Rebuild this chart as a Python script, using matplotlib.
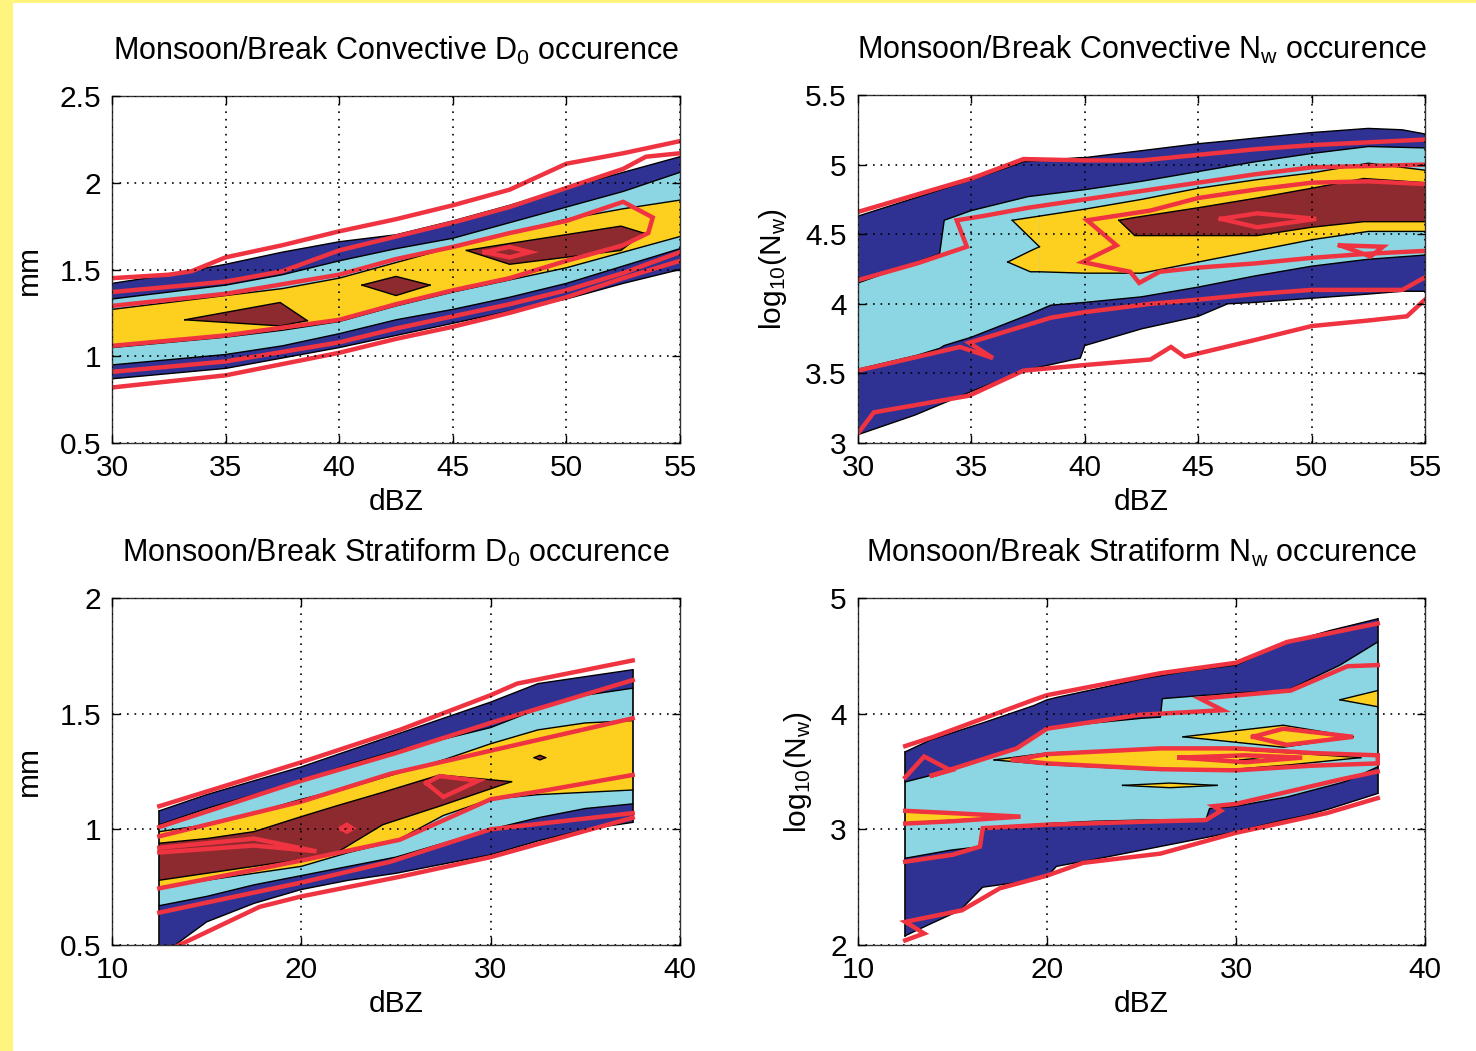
import matplotlib
matplotlib.use("Agg")
from matplotlib import pyplot as plt
from matplotlib.patches import Rectangle
from matplotlib.ticker import FuncFormatter

plt.rcParams['font.family'] = ['Liberation Sans', 'DejaVu Sans']
plt.rcParams['mathtext.fontset'] = 'custom'
plt.rcParams['mathtext.rm'] = 'Liberation Sans'
plt.rcParams['mathtext.it'] = 'Liberation Sans'
plt.rcParams['font.size'] = 21.5

# colores de los niveles rellenos (monzon) y de las lineas (break)
FILL = ['#2f3293', '#8bd6e2', '#fdd01f', '#8c2a2f']
RED = '#ef3340'

# --- Panel 1: convectivo D0 (dBZ vs mm) ---
cd_x = [30, 32.5, 35, 37.5, 40, 42.5, 45, 47.5, 50, 52.5, 55]
cd_blue_hi = [1.42, 1.47, 1.53, 1.60, 1.66, 1.70, 1.78, 1.87, 1.97, 2.06, 2.15]
cd_blue_lo = [0.87, 0.90, 0.93, 0.99, 1.05, 1.12, 1.19, 1.26, 1.33, 1.42, 1.50]
cd_lblue_hi = [1.33, 1.37, 1.41, 1.47, 1.55, 1.62, 1.68, 1.77, 1.86, 1.95, 2.06]
cd_lblue_lo = [0.95, 0.98, 1.01, 1.06, 1.13, 1.21, 1.27, 1.34, 1.42, 1.52, 1.62]
cd_yel_hi = [1.27, 1.31, 1.35, 1.39, 1.45, 1.54, 1.63, 1.71, 1.79, 1.85, 1.90]
cd_yel_lo = [1.05, 1.08, 1.11, 1.15, 1.20, 1.29, 1.37, 1.44, 1.51, 1.60, 1.69]
cd_red1_x = [33.2, 37.4, 38.6]
cd_red1_hi = [1.21, 1.31, 1.205]
cd_red1_lo = [1.21, 1.175, 1.205]
cd_red2_x = [41.0, 42.5, 44.0]
cd_red2_hi = [1.41, 1.46, 1.41]
cd_red2_lo = [1.41, 1.35, 1.41]
cd_red3_x = [45.6, 47.5, 52.4, 53.4]
cd_red3_hi = [1.61, 1.65, 1.75, 1.71]
cd_red3_lo = [1.61, 1.53, 1.61, 1.71]

cd_brk = [
    ([30, 32.5, 33.5, 35, 37.5, 40, 42.5, 45, 47.5, 50, 52.5, 55],
     [1.45, 1.47, 1.49, 1.57, 1.64, 1.72, 1.79, 1.87, 1.96, 2.11, 2.17, 2.24]),
    ([30, 35, 40, 42.5, 45, 47.5, 50, 52.5, 55],
     [0.82, 0.89, 1.02, 1.10, 1.17, 1.25, 1.34, 1.45, 1.55]),
    ([30, 35, 37.5, 40, 42.5, 45, 47.5, 50, 52.5, 53.5, 55],
     [1.37, 1.43, 1.49, 1.61, 1.69, 1.77, 1.86, 1.97, 2.08, 2.15, 2.17]),
    ([30, 35, 40, 42.5, 45, 47.5, 50, 52.5, 55],
     [0.91, 0.97, 1.08, 1.16, 1.23, 1.30, 1.38, 1.48, 1.60]),
    ([30, 35, 40, 42.5, 45, 47.5, 50, 52.5, 53.8, 53.6, 52.5, 50, 47.5, 45, 42.5, 40, 35, 30],
     [1.29, 1.36, 1.47, 1.56, 1.63, 1.71, 1.78, 1.89, 1.80, 1.71, 1.64, 1.55, 1.45, 1.38, 1.30, 1.21, 1.12, 1.06]),
    ([46.4, 47.5, 48.4, 47.5, 46.4], [1.60, 1.63, 1.60, 1.57, 1.60]),
]

# --- Panel 2: convectivo Nw ---
cn_blue_x = [30, 32.5, 35, 37.3, 39.8, 40, 42.5, 45, 46.3, 47.5, 50, 52.5, 54, 55]
cn_blue_hi = [4.63, 4.76, 4.89, 5.02, 5.05, 5.05, 5.10, 5.15, 5.17, 5.19, 5.23, 5.26, 5.25, 5.22]
cn_blue_lo = [3.06, 3.20, 3.37, 3.52, 3.61, 3.70, 3.82, 3.91, 4.00, 4.01, 4.04, 4.07, 4.09, 4.09]
cn_lblue_x = [30, 32.6, 33.6, 33.8, 35, 37.5, 38.5, 40, 42.5, 45, 47.5, 50, 52.5, 55]
cn_lblue_hi = [4.15, 4.30, 4.36, 4.60, 4.67, 4.77, 4.79, 4.82, 4.88, 4.95, 5.02, 5.08, 5.13, 5.12]
cn_lblue_lo = [3.53, 3.63, 3.68, 3.70, 3.76, 3.92, 3.99, 4.01, 4.05, 4.12, 4.20, 4.27, 4.32, 4.35]
cn_yel_x = [38.0, 40, 42.5, 45, 47.5, 50, 52.5, 55]
cn_yel_hi = [4.63, 4.68, 4.75, 4.83, 4.89, 4.94, 5.01, 4.96]
cn_yel_lo = [4.23, 4.22, 4.22, 4.30, 4.38, 4.46, 4.52, 4.52]
cn_yel_up_x = [36.8, 38.0]
cn_yel_up_hi = [4.60, 4.63]
cn_yel_up_lo = [4.60, 4.41]
cn_yel_dn_x = [36.6, 37.6, 38.0]
cn_yel_dn_hi = [4.30, 4.38, 4.41]
cn_yel_dn_lo = [4.30, 4.23, 4.23]
cn_red_x = [41.5, 42.2, 45, 47.6, 50, 52.3, 55]
cn_red_hi = [4.60, 4.62, 4.69, 4.76, 4.83, 4.90, 4.87]
cn_red_lo = [4.60, 4.49, 4.49, 4.49, 4.55, 4.59, 4.59]

cn_brk = [
    ([30, 32.5, 35, 37.3, 40, 42.5, 45, 47.5, 50, 52.5, 55],
     [4.66, 4.78, 4.90, 5.04, 5.03, 5.03, 5.07, 5.11, 5.14, 5.16, 5.18]),
    ([30, 30.7, 34.9, 37.3, 40, 42.9, 43.8, 44.4, 47.5, 50, 52.5, 54.2, 55],
     [3.07, 3.22, 3.34, 3.52, 3.56, 3.60, 3.69, 3.62, 3.74, 3.84, 3.88, 3.91, 4.03]),
    ([30, 32.6, 34.8, 34.35, 35.5, 37.5, 40, 42.9, 45, 47.5, 50, 52.5, 55],
     [4.17, 4.29, 4.41, 4.60, 4.63, 4.69, 4.75, 4.82, 4.87, 4.93, 4.98, 4.99, 5.00]),
    ([30, 34.5, 35.95, 34.9, 38.5, 40, 42.9, 45, 47.5, 50, 52.5, 54, 55],
     [3.52, 3.69, 3.61, 3.72, 3.90, 3.94, 4.00, 4.03, 4.07, 4.10, 4.10, 4.10, 4.19]),
    ([55, 52.5, 50, 47.5, 45, 42.9, 40.1, 41.4, 39.9, 42.0, 42.4, 43.3, 45, 47.5, 50, 52.5, 55],
     [4.86, 4.88, 4.87, 4.82, 4.76, 4.67, 4.60, 4.42, 4.30, 4.23, 4.15, 4.23, 4.26, 4.29, 4.33, 4.36, 4.38]),
    ([46.0, 47.6, 50.2, 47.6, 46.0], [4.61, 4.65, 4.61, 4.55, 4.61]),
    ([51.25, 53.15, 52.6, 51.25], [4.42, 4.41, 4.34, 4.42]),
]

# --- Panel 3: estratiforme D0 ---
sd_x = [12.5, 15, 17.5, 20, 22.5, 25, 27.5, 30, 32.5, 35, 37.5]
sd_blue_hi = [1.08, 1.15, 1.21, 1.27, 1.34, 1.41, 1.48, 1.55, 1.63, 1.66, 1.69]
sd_blue_lo = [0.45, 0.60, 0.68, 0.74, 0.78, 0.81, 0.85, 0.89, 0.95, 1.00, 1.03]
sd_lblue_hi = [1.02, 1.09, 1.15, 1.21, 1.28, 1.34, 1.39, 1.44, 1.52, 1.58, 1.61]
sd_lblue_lo = [0.67, 0.71, 0.76, 0.80, 0.84, 0.88, 0.94, 1.00, 1.05, 1.09, 1.11]
sd_yel_hi = [0.99, 1.02, 1.07, 1.13, 1.18, 1.24, 1.30, 1.37, 1.43, 1.46, 1.47]
sd_yel_lo = [0.75, 0.78, 0.81, 0.84, 0.90, 0.95, 1.06, 1.13, 1.15, 1.16, 1.17]
sd_red_x = [12.5, 15, 17.5, 20, 21.8, 24.3, 27.3, 31.1]
sd_red_hi = [0.94, 0.96, 0.99, 1.055, 1.10, 1.16, 1.235, 1.206]
sd_red_lo = [0.78, 0.81, 0.84, 0.87, 0.896, 1.02, 1.10, 1.206]
sd_dot_x = [32.3, 32.6, 32.9]
sd_dot_hi = [1.31, 1.32, 1.31]
sd_dot_lo = [1.31, 1.30, 1.31]

sd_brk = [
    ([12.5, 20, 25.2, 30, 31.4, 37.5], [1.10, 1.29, 1.43, 1.58, 1.63, 1.73]),
    ([13.3, 17.8, 20, 25.2, 30, 37.5], [0.49, 0.665, 0.71, 0.795, 0.88, 1.05]),
    ([12.5, 20, 25, 30, 37.5], [1.01, 1.21, 1.33, 1.46, 1.645]),
    ([12.5, 20, 24.7, 30, 37.5], [0.64, 0.77, 0.86, 1.00, 1.07]),
    ([12.5, 20, 24.7, 30, 37.5], [0.97, 1.12, 1.24, 1.34, 1.48]),
    ([12.5, 20, 25.2, 30, 33, 37.5], [0.745, 0.865, 0.955, 1.13, 1.17, 1.235]),
    ([12.5, 17.5, 20.8, 17.5, 12.5], [0.92, 0.96, 0.905, 0.93, 0.90]),
    ([22.1, 22.4, 22.7, 22.4, 22.1], [1.004, 1.02, 1.004, 0.99, 1.004]),
    ([26.6, 27.3, 29.35, 27.5, 26.6], [1.20, 1.23, 1.21, 1.14, 1.20]),
]

# --- Panel 4: estratiforme Nw ---
sn_blue_x = [12.5, 13.8, 15, 15.4, 16.6, 17.5, 19.3, 20, 20.5, 22.5, 25, 27.5, 30, 32.5, 33.7, 35, 37.5]
sn_blue_hi = [3.67, 3.77, 3.835, 3.857, 3.92, 3.97, 4.07, 4.12, 4.14, 4.21, 4.30, 4.37, 4.42, 4.605, 4.66, 4.72, 4.82]
sn_blue_lo = [2.08, 2.18, 2.27, 2.30, 2.50, 2.52, 2.56, 2.59, 2.68, 2.74, 2.82, 2.90, 2.98, 3.08, 3.12, 3.18, 3.31]
sn_lblue_x = [12.5, 14.9, 16.45, 16.6, 18.4, 20, 22.5, 25, 26, 26.1, 28.4, 28.6, 30, 32.7, 35.5, 35.9, 37.5]
sn_lblue_hi = [3.41, 3.51, 3.60, 3.61, 3.71, 3.87, 3.92, 3.96, 3.97, 4.13, 4.16, 4.16, 4.18, 4.20, 4.42, 4.46, 4.62]
sn_lblue_lo = [2.75, 2.82, 2.85, 3.01, 3.03, 3.05, 3.07, 3.08, 3.08, 3.08, 3.08, 3.18, 3.20, 3.28, 3.40, 3.42, 3.54]
sn_yel = [
    ([12.5, 15, 18.4], [3.05, 3.08, 3.11], [3.15, 3.14, 3.11]),
    ([17.2, 20, 26, 30, 33, 36.6], [3.60, 3.56, 3.51, 3.52, 3.56, 3.62], [3.60, 3.66, 3.70, 3.69, 3.66, 3.62]),
    ([27.2, 32.5, 36.2], [3.80, 3.71, 3.80], [3.80, 3.90, 3.80]),
    ([24.0, 26.5, 29.0], [3.38, 3.36, 3.38], [3.38, 3.40, 3.38]),
    ([35.5, 37.5], [4.12, 4.06], [4.12, 4.20]),
]
sn_red_x = [30.2, 30.9, 31.5]
sn_red_hi = [3.60, 3.61, 3.60]
sn_red_lo = [3.60, 3.585, 3.60]

sn_brk = [
    ([12.5, 14, 19.3, 20, 26, 30, 32.7, 37.5], [3.72, 3.80, 4.12, 4.16, 4.35, 4.44, 4.62, 4.78]),
    ([12.5, 13.5, 12.5, 15.5, 17.5, 20, 21.9, 26, 30, 34.8, 37.5],
     [2.04, 2.10, 2.20, 2.30, 2.49, 2.60, 2.71, 2.79, 2.97, 3.14, 3.27]),
    ([12.5, 13.5, 14.9, 13.8, 18.4, 20, 24.9, 29.3, 28.1, 32.9, 35.9, 37.5],
     [3.45, 3.63, 3.51, 3.46, 3.70, 3.87, 3.99, 4.03, 4.13, 4.20, 4.41, 4.42]),
    ([12.5, 15, 16.45, 16.6, 20, 26, 28.4, 29.2, 28.8, 30, 35.5, 37.5],
     [2.72, 2.78, 2.85, 3.01, 3.04, 3.07, 3.08, 3.16, 3.20, 3.22, 3.43, 3.50]),
    ([12.5, 15, 18.6, 15, 12.5], [3.16, 3.14, 3.11, 3.07, 3.05]),
    ([18.2, 20, 26, 30, 34, 37.5, 37.5, 34, 30, 26, 20, 18.2],
     [3.60, 3.65, 3.70, 3.70, 3.66, 3.64, 3.57, 3.55, 3.51, 3.52, 3.57, 3.60]),
    ([27, 30.5, 33.5, 30.5, 27], [3.62, 3.64, 3.62, 3.58, 3.62]),
    ([30.9, 32.5, 36.2, 32.7, 30.9], [3.80, 3.87, 3.80, 3.73, 3.80]),
]


def banda(ax, nivel, x, lo, hi):
    ax.fill_between(x, lo, hi, facecolor=FILL[nivel], edgecolor='none', lw=0, zorder=1)
    ax.plot(x, lo, color='k', lw=1.0, zorder=1.6)
    ax.plot(x, hi, color='k', lw=1.0, zorder=1.6)


def lineas_break(ax, curvas):
    for x, y in curvas:
        ax.plot(x, y, color=RED, lw=3.2, solid_joinstyle='miter', zorder=2)


def estilo(ax, xlim, ylim, xticks, yticks, titulo, ylabel):
    ax.set_xlim(xlim)
    ax.set_ylim(ylim)
    ax.set_xticks(xticks)
    ax.set_yticks(yticks)
    fmt = FuncFormatter(lambda v, p: f'{v:g}')
    ax.xaxis.set_major_formatter(fmt)
    ax.yaxis.set_major_formatter(fmt)
    ax.tick_params(direction='in', top=True, right=True, length=6, width=1,
                   labelsize=21.5, pad=8)
    ax.set_axisbelow(False)
    ax.grid(True, color='k', linestyle=(0, (1, 3.5)), lw=1.2)
    for s in ax.spines.values():
        s.set_linewidth(1.0)
        s.set_color('#333333')
    ax.set_title(titulo, fontsize=22, pad=26)
    ax.set_xlabel('dBZ', fontsize=21.5, labelpad=4)
    ax.set_ylabel(ylabel, fontsize=21.5, labelpad=12)


fig = plt.figure(figsize=(14.76, 10.51), dpi=100)
fig.patches.append(Rectangle((0, 0), 13 / 1476, 1, transform=fig.transFigure,
                             facecolor='#fff47e', edgecolor='none'))
fig.patches.append(Rectangle((0, 1 - 3 / 1051), 1, 3 / 1051, transform=fig.transFigure,
                             facecolor='#fff47e', edgecolor='none'))

ax1 = fig.add_axes([112 / 1476, 1 - 443 / 1051, 568 / 1476, 347 / 1051])
ax2 = fig.add_axes([858 / 1476, 1 - 443 / 1051, 567 / 1476, 348 / 1051])
ax3 = fig.add_axes([112 / 1476, 1 - 945 / 1051, 568 / 1476, 347 / 1051])
ax4 = fig.add_axes([858 / 1476, 1 - 945 / 1051, 567 / 1476, 347 / 1051])

# panel 1
banda(ax1, 0, cd_x, cd_blue_lo, cd_blue_hi)
banda(ax1, 1, cd_x, cd_lblue_lo, cd_lblue_hi)
banda(ax1, 2, cd_x, cd_yel_lo, cd_yel_hi)
banda(ax1, 3, cd_red1_x, cd_red1_lo, cd_red1_hi)
banda(ax1, 3, cd_red2_x, cd_red2_lo, cd_red2_hi)
banda(ax1, 3, cd_red3_x, cd_red3_lo, cd_red3_hi)
lineas_break(ax1, cd_brk)
estilo(ax1, (30, 55), (0.5, 2.5), [30, 35, 40, 45, 50, 55], [0.5, 1, 1.5, 2, 2.5],
       r'Monsoon/Break Convective D$_0$ occurence', 'mm')

# panel 2
banda(ax2, 0, cn_blue_x, cn_blue_lo, cn_blue_hi)
banda(ax2, 1, cn_lblue_x, cn_lblue_lo, cn_lblue_hi)
banda(ax2, 2, cn_yel_x, cn_yel_lo, cn_yel_hi)
banda(ax2, 2, cn_yel_up_x, cn_yel_up_lo, cn_yel_up_hi)
banda(ax2, 2, cn_yel_dn_x, cn_yel_dn_lo, cn_yel_dn_hi)
banda(ax2, 3, cn_red_x, cn_red_lo, cn_red_hi)
lineas_break(ax2, cn_brk)
estilo(ax2, (30, 55), (3, 5.5), [30, 35, 40, 45, 50, 55], [3, 3.5, 4, 4.5, 5, 5.5],
       r'Monsoon/Break Convective N$_\mathrm{w}$ occurence', r'log$_{10}$(N$_\mathrm{w}$)')

# panel 3
banda(ax3, 0, sd_x, sd_blue_lo, sd_blue_hi)
banda(ax3, 1, sd_x, sd_lblue_lo, sd_lblue_hi)
banda(ax3, 2, sd_x, sd_yel_lo, sd_yel_hi)
banda(ax3, 3, sd_red_x, sd_red_lo, sd_red_hi)
banda(ax3, 3, sd_dot_x, sd_dot_lo, sd_dot_hi)
for i in (0, -1):
    ax3.plot([sd_x[i], sd_x[i]], [sd_blue_lo[i], sd_blue_hi[i]], color='k', lw=1.2, zorder=1.6)
lineas_break(ax3, sd_brk)
estilo(ax3, (10, 40), (0.5, 2), [10, 20, 30, 40], [0.5, 1, 1.5, 2],
       r'Monsoon/Break Stratiform D$_0$ occurence', 'mm')

# panel 4
banda(ax4, 0, sn_blue_x, sn_blue_lo, sn_blue_hi)
banda(ax4, 1, sn_lblue_x, sn_lblue_lo, sn_lblue_hi)
for x, lo, hi in sn_yel:
    banda(ax4, 2, x, lo, hi)
banda(ax4, 3, sn_red_x, sn_red_lo, sn_red_hi)
for i in (0, -1):
    ax4.plot([sn_blue_x[i], sn_blue_x[i]], [sn_blue_lo[i], sn_blue_hi[i]], color='k', lw=1.2, zorder=1.6)
lineas_break(ax4, sn_brk)
estilo(ax4, (10, 40), (2, 5), [10, 20, 30, 40], [2, 3, 4, 5],
       r'Monsoon/Break Stratiform N$_\mathrm{w}$ occurence', r'log$_{10}$(N$_\mathrm{w}$)')

fig.savefig('out.png', dpi=100)
